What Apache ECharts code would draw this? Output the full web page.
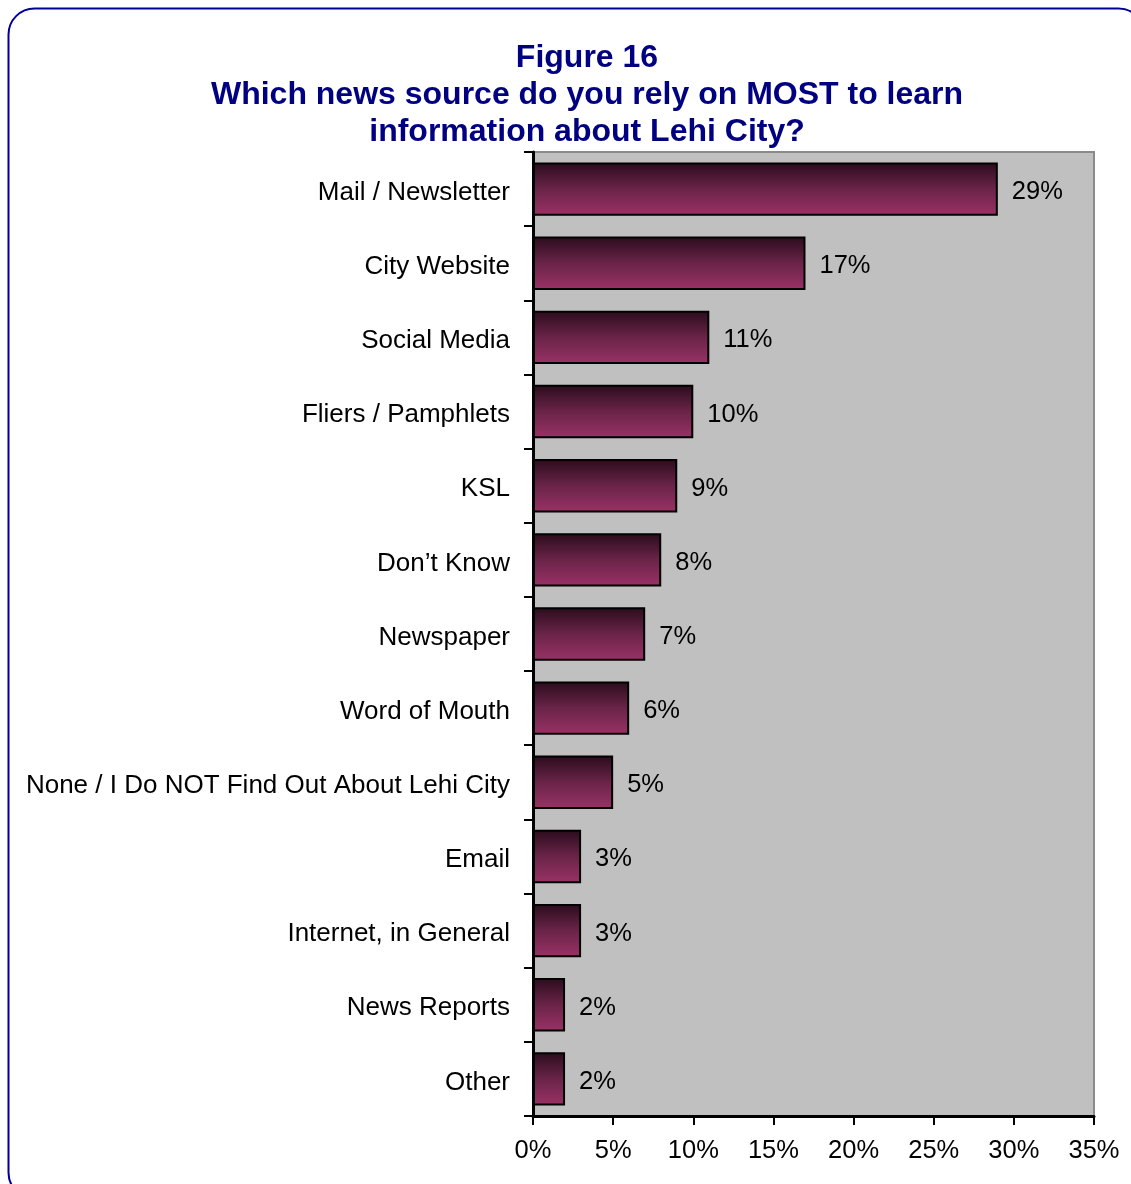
<!DOCTYPE html>
<html>
<head>
<meta charset="utf-8">
<script src="https://cdn.jsdelivr.net/npm/echarts@6/dist/echarts.min.js"></script>
<style>
  html, body { margin: 0; padding: 0; background: #ffffff; }
  #chart { width: 1131px; height: 1184px; }
</style>
</head>
<body>
<div id="chart"></div>
<script>
// News sources, ordered from most to least relied upon
const categories = [
  'Mail / Newsletter',
  'City Website',
  'Social Media',
  'Fliers / Pamphlets',
  'KSL',
  'Don\u2019t Know',
  'Newspaper',
  'Word of Mouth',
  'None / I Do NOT Find Out About Lehi City',
  'Email',
  'Internet, in General',
  'News Reports',
  'Other'
];
// Share of respondents (%)
const shares = [29, 17, 11, 10, 9, 8, 7, 6, 5, 3, 3, 2, 2];
// X axis range (%)
const axisMin = 0;
const axisMax = 35;
const axisStep = 5;

const FONT = '"Liberation Sans", Arial, sans-serif';
const chart = echarts.init(document.getElementById('chart'), null, { renderer: 'canvas' });

chart.setOption({
  backgroundColor: '#ffffff',
  animation: false,
  graphic: [{
    type: 'rect',
    left: 6, top: 6, z: -10,
    shape: { width: 1136, height: 1190, r: 26 },
    style: { fill: 'none', stroke: '#000099', lineWidth: 2 }
  }],
  title: {
    text: 'Figure 16\nWhich news source do you rely on MOST to learn\ninformation about Lehi City?',
    left: 582, top: 35, textAlign: 'center',
    textStyle: {
      fontFamily: FONT, fontSize: 32, fontWeight: 'bold',
      color: '#000080', lineHeight: 37
    }
  },
  grid: {
    left: 533, right: 37, top: 152, bottom: 68,
    show: true, backgroundColor: '#C0C0C0',
    borderColor: '#8a8a8a', borderWidth: 2
  },
  xAxis: {
    type: 'value', min: axisMin, max: axisMax, interval: axisStep,
    axisLine: { show: true, onZero: false, lineStyle: { color: '#000', width: 3 } },
    axisTick: { show: true, length: 9, lineStyle: { color: '#000', width: 2 } },
    splitLine: { show: false },
    axisLabel: {
      formatter: v => v + '%', margin: 22,
      fontFamily: FONT, fontSize: 25.5, color: '#000'
    }
  },
  yAxis: {
    type: 'category', data: categories, inverse: true,
    axisLine: { show: true, lineStyle: { color: '#000', width: 3 } },
    axisTick: { show: true, length: 9, alignWithLabel: false, lineStyle: { color: '#000', width: 2 } },
    axisLabel: {
      margin: 23, color: '#000',
      formatter: v => '{c|' + v + '}',
      rich: {
        c: { fontFamily: FONT, fontSize: 26, color: '#000', padding: [7, 0, 0, 0] }
      }
    }
  },
  series: [{
    type: 'bar',
    data: shares,
    barCategoryGap: '28%',
    itemStyle: {
      color: new echarts.graphic.LinearGradient(0, 0, 0, 1, [
        { offset: 0, color: '#2a0c1c' },
        { offset: 0.5, color: '#6a2448' },
        { offset: 1, color: '#9a3266' }
      ]),
      borderColor: '#000', borderWidth: 2
    },
    label: {
      show: true, position: 'right', distance: 14, offset: [0, 3],
      formatter: p => p.value + '%',
      fontFamily: FONT, fontSize: 25.5, color: '#000'
    }
  }]
});
</script>
</body>
</html>
